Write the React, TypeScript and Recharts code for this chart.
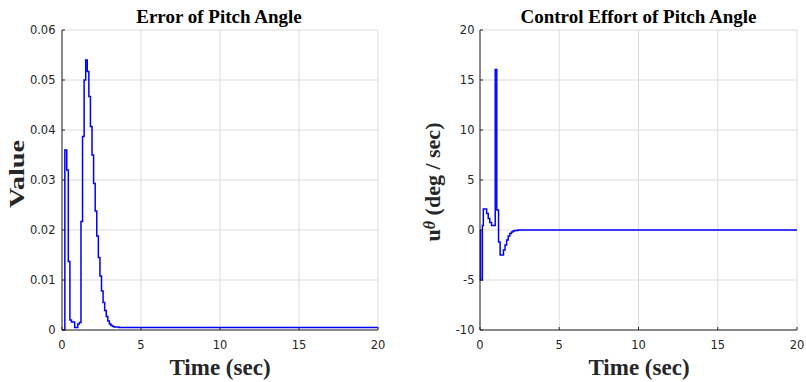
import { LineChart, Line, XAxis, YAxis, CartesianGrid } from "recharts";

// time axis shared by both panels
const timeTicks = [0, 5, 10, 15, 20];

// pitch angle error (left panel)
const errorTicks = [0, 0.01, 0.02, 0.03, 0.04, 0.05, 0.06];
const errorTime = [
  0, 0.18, 0.3, 0.4, 0.5, 0.6, 0.8, 1.0, 1.1, 1.2, 1.3, 1.4, 1.5, 1.6, 1.7, 1.8,
  1.9, 2.0, 2.1, 2.2, 2.3, 2.4, 2.5, 2.6, 2.7, 2.8, 2.9, 3.0, 3.1, 3.2, 3.3, 3.6, 20,
];
const errorValue = [
  0, 0.036, 0.032, 0.0137, 0.002, 0.0016, 0.0005, 0.0012, 0.0015, 0.0217, 0.0387,
  0.05, 0.054, 0.0517, 0.0467, 0.0407, 0.035, 0.0293, 0.0238, 0.0188, 0.0145,
  0.0108, 0.0078, 0.0055, 0.0039, 0.0027, 0.0018, 0.0012, 0.0009, 0.0007, 0.0006,
  0.0005, 0.0005,
];

// pitch control effort (right panel)
const effortTicks = [-10, -5, 0, 5, 10, 15, 20];
const effortTime = [
  0, 0.03, 0.15, 0.21, 0.42, 0.52, 0.62, 0.73, 0.96, 1.06, 1.17, 1.27, 1.48, 1.58,
  1.68, 1.78, 1.88, 1.98, 2.08, 2.18, 2.4, 20,
];
const effortValue = [
  0, -5, 0.45, 2.1, 1.65, 1.15, 0.75, 0.45, 16.05, 2.0, -1.2, -2.5, -2.0, -1.5,
  -1.0, -0.6, -0.35, -0.2, -0.1, -0.04, 0, 0,
];

const errorData = errorTime.map((t, i) => ({ t, v: errorValue[i] }));
const effortData = effortTime.map((t, i) => ({ t, v: effortValue[i] }));

const axisColor = "#262626";
const tickFont = { fill: axisColor, fontSize: 11.5, fontFamily: "DejaVu Sans, Arial, sans-serif" };
const serif = "'Liberation Serif', 'Times New Roman', serif";

type PanelProps = {
  data: { t: number; v: number }[];
  yTicks: number[];
  yDomain: [number, number];
  left: number;
  width: number;
  margin: { top: number; right: number; bottom: number; left: number };
  yTickMargin: number;
  fmt?: (v: number) => string;
};

function Panel({ data, yTicks, yDomain, left, width, margin, yTickMargin, fmt }: PanelProps) {
  return (
    <div style={{ position: "absolute", left, top: 0 }}>
      <LineChart width={width} height={382} data={data} margin={margin}>
        <CartesianGrid stroke="#dcdcdc" strokeWidth={1} />
        <XAxis
          dataKey="t"
          type="number"
          domain={[0, 20]}
          ticks={timeTicks}
          height={20}
          tickSize={-3}
          tickMargin={13.5}
          stroke={axisColor}
          tick={tickFont}
          interval={0}
        />
        <XAxis
          xAxisId="top"
          orientation="top"
          type="number"
          domain={[0, 20]}
          ticks={timeTicks}
          height={0}
          tickSize={-3}
          tick={false}
          stroke={axisColor}
        />
        <YAxis
          type="number"
          domain={yDomain}
          ticks={yTicks}
          width={50}
          tickSize={-3}
          tickMargin={yTickMargin}
          stroke={axisColor}
          tick={tickFont}
          tickFormatter={fmt}
          interval={0}
        />
        <YAxis
          yAxisId="right"
          orientation="right"
          type="number"
          domain={yDomain}
          ticks={yTicks}
          width={0}
          tickSize={-3}
          tick={false}
          stroke={axisColor}
        />
        <Line
          type="stepAfter"
          dataKey="v"
          stroke="#0000ff"
          strokeWidth={1.5}
          dot={false}
          isAnimationActive={false}
        />
      </LineChart>
    </div>
  );
}

export default function App() {
  return (
    <div style={{ position: "absolute", left: 0, top: 0, width: 806, height: 382, background: "#fff" }}>
      <Panel
        data={errorData}
        yTicks={errorTicks}
        yDomain={[0, 0.06]}
        left={0}
        width={400}
        margin={{ top: 30, right: 22, bottom: 32, left: 12 }}
        yTickMargin={9.5}
        fmt={(v) => (v === 0 ? "0" : v.toFixed(2))}
      />
      <Panel
        data={effortData}
        yTicks={effortTicks}
        yDomain={[-10, 20]}
        left={400}
        width={406}
        margin={{ top: 30, right: 9, bottom: 32, left: 30 }}
        yTickMargin={8.5}
      />
      <svg
        width={806}
        height={382}
        style={{ position: "absolute", left: 0, top: 0, pointerEvents: "none" }}
      >
        <g fontFamily={serif} fontWeight="bold" fill="#000" textAnchor="middle">
          <text x={219} y={23} fontSize={19}>Error of Pitch Angle</text>
          <text x={638.5} y={23} fontSize={19}>Control Effort of Pitch Angle</text>
          <text x={220} y={375} fontSize={23} fill="#262626">Time (sec)</text>
          <text x={639} y={375} fontSize={23} fill="#262626">Time (sec)</text>
          <text
            transform="translate(24,174) rotate(-90)"
            fontSize={22}
            fill="#262626"
            textLength={68}
            lengthAdjust="spacingAndGlyphs"
          >
            Value
          </text>
          <text transform="translate(440,182) rotate(-90)" fontSize={22} fill="#262626">
            u
            <tspan fontStyle="italic" fontSize={16} dy={-5}>θ</tspan>
            <tspan dy={5}> (deg / sec)</tspan>
          </text>
        </g>
      </svg>
    </div>
  );
}
